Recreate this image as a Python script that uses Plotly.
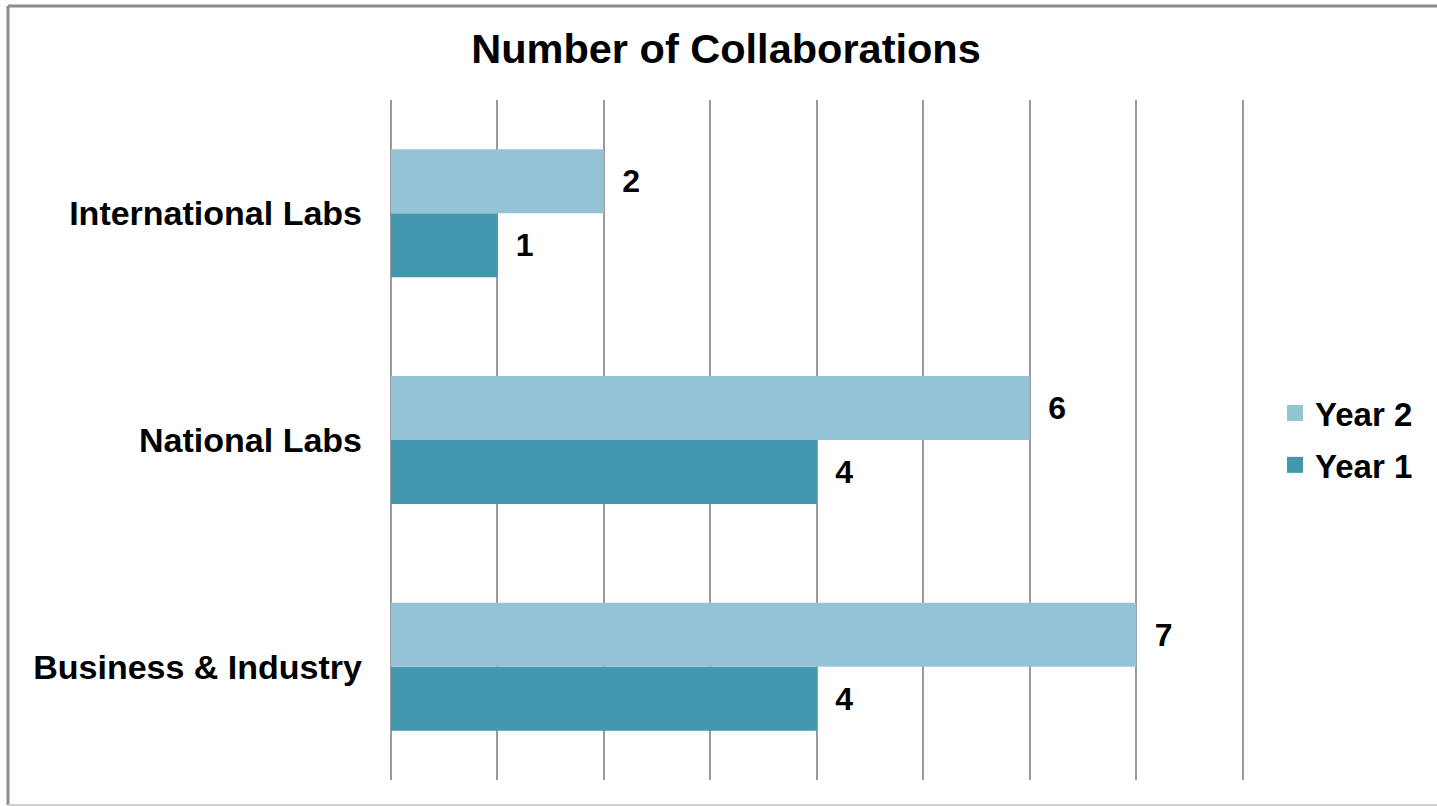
import plotly.graph_objects as go

categories = ["Business & Industry", "National Labs", "International Labs"]
year1 = [4, 4, 1]
year2 = [7, 6, 2]
series_names = ["Year 1", "Year 2"]
colors = ["#4398B0", "#93C3D5"]
legend_ranks = [2, 1]

FONT = "Liberation Sans, Arial, sans-serif"
W, H = 1437, 806
XMAX = 8.03
L, T, B = 391, 100, 26
R = W - L - round(852 * XMAX / 8)
pw, ph = W - L - R, H - T - B

def px2x(px):
    return (px - L) / pw

def px2y(py):
    return (H - B - py) / ph

fig = go.Figure()
for name, vals, col in zip(series_names, [year1, year2], colors):
    fig.add_trace(go.Bar(
        y=categories, x=vals, name=name, orientation="h",
        marker=dict(color=col, line=dict(width=0)),
        texttemplate="<b>\u00a0\u2009%{x}</b>", textposition="outside",
        textfont=dict(family=FONT, size=32, color="black"),
        cliponaxis=False, showlegend=False,
    ))
# legend entries (square swatches)
for name, col, rk in zip(series_names, colors, legend_ranks):
    fig.add_trace(go.Scatter(
        x=[None], y=[None], mode="markers", name="<b>" + name + "</b>",
        marker=dict(symbol="square", size=17, color=col),
        legendgroup=name, legendrank=rk, showlegend=True,
    ))

fig.update_layout(
    width=W, height=H,
    margin=dict(l=L, r=R, t=T, b=B),
    paper_bgcolor="white", plot_bgcolor="white",
    barmode="group", bargap=0.435, bargroupgap=0,
    font=dict(family=FONT, color="black"),
    title=dict(text="<b>Number of Collaborations</b>", x=px2x(726), xref="paper",
               xanchor="center", y=1 - 48 / H, yref="container", yanchor="middle",
               font=dict(family=FONT, size=41.5, color="black")),
    legend=dict(x=px2x(1275), y=px2y(439), xanchor="left", yanchor="middle",
                traceorder="grouped", tracegroupgap=6,
                font=dict(family=FONT, size=33, color="black"),
                itemwidth=30, bgcolor="rgba(0,0,0,0)"),
    showlegend=True,
)
fig.update_xaxes(range=[0, XMAX], dtick=1, tick0=0, showgrid=True, gridcolor="#9a9a9a", gridwidth=1.5,
                 showticklabels=False, zeroline=True, zerolinecolor="#9a9a9a", zerolinewidth=1.5,
                 showline=False, ticks="")
fig.update_yaxes(categoryorder="array", categoryarray=categories, showgrid=False,
                 tickfont=dict(family=FONT, size=34, color="black"), ticks="", ticklabelstandoff=28,
                 showline=False,
                 ticktext=["<b>" + c + "</b>" for c in categories], tickvals=categories)

# outer border
fig.add_shape(type="line", xref="paper", yref="paper", x0=px2x(8), x1=px2x(8), y0=px2y(6), y1=px2y(805),
              line=dict(color="#8c8c8c", width=3))
fig.add_shape(type="line", xref="paper", yref="paper", x0=px2x(8), x1=px2x(1440), y0=px2y(6), y1=px2y(6),
              line=dict(color="#8c8c8c", width=3))
fig.add_shape(type="line", xref="paper", yref="paper", x0=px2x(8), x1=px2x(1440), y0=px2y(805), y1=px2y(805),
              line=dict(color="#cfcfcf", width=2))

fig.write_html("out.html")
